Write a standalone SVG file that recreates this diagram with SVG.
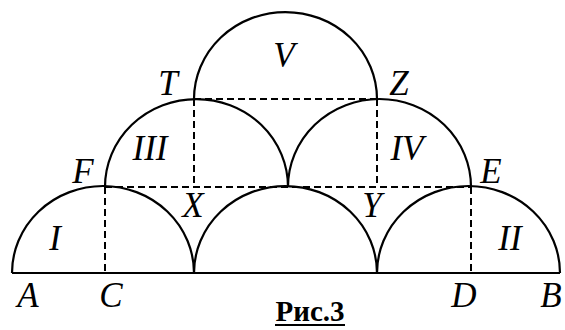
<svg xmlns="http://www.w3.org/2000/svg" width="565" height="330" viewBox="0 0 565 330">
<style>
.s{fill:none;stroke:#000;stroke-width:2.2}
.d{fill:none;stroke:#000;stroke-width:2;stroke-dasharray:7,4}
.t{font-family:'Liberation Serif','DejaVu Serif',serif;font-style:italic;font-size:35px;fill:#000;text-anchor:middle}
.c{font-family:'Liberation Serif','DejaVu Serif',serif;font-weight:bold;font-size:29px;fill:#000;text-anchor:middle}
</style>
<rect width="565" height="330" fill="#fff"/>
<g id="arcs">
<path class="s" d="M12 273 H560"/>
<path class="s" d="M12 273 A91 87 0 0 1 194 273"/>
<path class="s" d="M194 273 A91.5 87 0 0 1 377 273"/>
<path class="s" d="M377 273 A91.5 87 0 0 1 560 273"/>
<path class="s" d="M105 187 A91.5 88 0 0 1 288 187"/>
<path class="s" d="M288 187 A91.5 88 0 0 1 471 187"/>
<path class="s" d="M194 99 A91.5 87 0 0 1 377 99"/>
</g>
<g id="dashed">
<path class="d" d="M105 187 H471"/>
<path class="d" d="M194 99 H377"/>
<path class="d" d="M105 187 V273"/>
<path class="d" d="M471 187 V273"/>
<path class="d" d="M194 99 V187"/>
<path class="d" d="M377 99 V187"/>
</g>
<g id="labels">
<text class="t" x="28" y="307">A</text>
<text class="t" x="111" y="307">C</text>
<text class="t" x="464" y="307">D</text>
<text class="t" x="551" y="307">B</text>
<text class="t" x="83" y="183">F</text>
<text class="t" x="491" y="183">E</text>
<text class="t" x="168" y="95">T</text>
<text class="t" x="399" y="95">Z</text>
<text class="t" x="193" y="217">X</text>
<text class="t" x="372" y="217">Y</text>
<text class="t" x="284" y="67">V</text>
<text class="t" x="150" y="160">III</text>
<text class="t" x="407" y="160">IV</text>
<text class="t" x="55" y="250">I</text>
<text class="t" x="510" y="250">II</text>
</g>
<g id="caption">
<text class="c" x="310" y="321">Рис.3</text>
<path d="M275 325 H345" stroke="#000" stroke-width="2"/>
</g>
</svg>
